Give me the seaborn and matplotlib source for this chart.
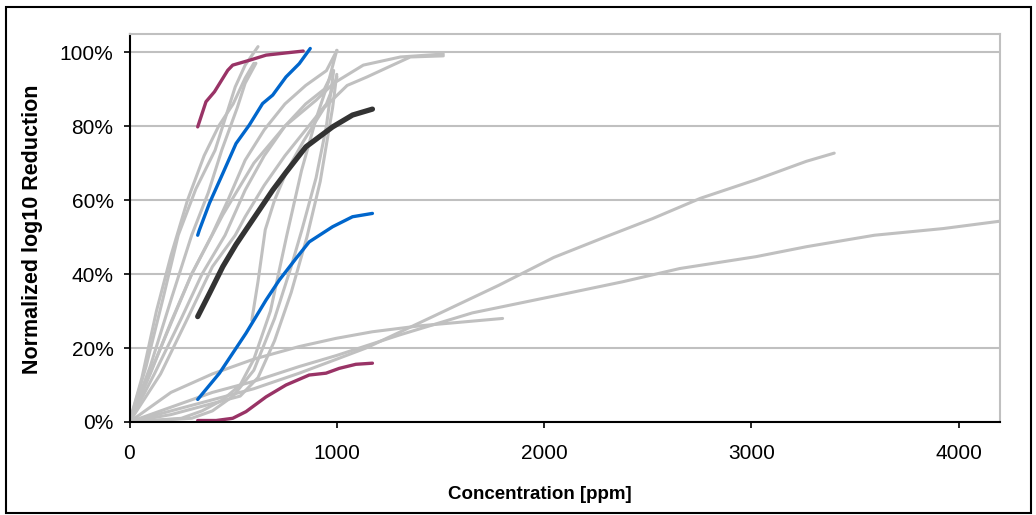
import matplotlib
matplotlib.use("Agg")
import matplotlib.pyplot as plt
from matplotlib.patches import Rectangle
from matplotlib.ticker import PercentFormatter
import seaborn as sns

# grey background curves (concentration ppm, normalized reduction)
g_a_x = [0, 80, 160, 235, 320, 413, 510, 558, 620]
g_a_y = [0, 0.15, 0.33, 0.505, 0.63, 0.735, 0.906, 0.965, 1.015]
g_b_x = [0, 100, 200, 300, 380, 445, 520, 558, 610]
g_b_y = [0, 0.15, 0.33, 0.505, 0.62, 0.735, 0.85, 0.916, 0.97]
g_k_x = [0, 60, 130, 200, 280, 360, 430, 500, 558, 600]
g_k_y = [0, 0.12, 0.30, 0.45, 0.60, 0.72, 0.80, 0.86, 0.93, 0.97]
g_c_x = [0, 100, 200, 300, 397, 475, 558, 650, 750, 850, 950, 1001]
g_c_y = [0, 0.13, 0.27, 0.40, 0.505, 0.60, 0.708, 0.79, 0.86, 0.91, 0.95, 1.005]
g_d_x = [0, 120, 250, 350, 461, 558, 650, 750, 850, 940, 984]
g_d_y = [0, 0.13, 0.28, 0.40, 0.505, 0.627, 0.72, 0.80, 0.86, 0.90, 0.95]
g_e_x = [0, 150, 280, 400, 510, 558, 650, 750, 850, 950, 1001]
g_e_y = [0, 0.13, 0.28, 0.42, 0.505, 0.555, 0.64, 0.72, 0.79, 0.86, 0.933]
g_f_x = [0, 250, 350, 450, 534, 600, 680, 759, 830, 900, 960, 1000]
g_f_y = [0, 0.01, 0.03, 0.06, 0.10, 0.17, 0.30, 0.505, 0.68, 0.82, 0.92, 1.005]
g_g_x = [0, 300, 400, 500, 600, 700, 780, 832, 900, 950, 985]
g_g_y = [0, 0.01, 0.03, 0.07, 0.14, 0.28, 0.42, 0.52, 0.66, 0.80, 0.95]
g_h_x = [590, 620, 655, 700, 760, 840, 940, 1050, 1146, 1250, 1355, 1514]
g_h_y = [0.275, 0.38, 0.52, 0.60, 0.68, 0.76, 0.85, 0.91, 0.933, 0.96, 0.987, 0.99]
g_i_x = [0, 200, 400, 534, 620, 700, 780, 856, 920, 980, 1000]
g_i_y = [0, 0.02, 0.05, 0.07, 0.12, 0.22, 0.35, 0.50, 0.65, 0.85, 0.94]
g_j_x = [0, 150, 300, 450, 600, 750, 900, 985, 1128, 1307, 1514]
g_j_y = [0, 0.20, 0.40, 0.56, 0.70, 0.80, 0.87, 0.916, 0.965, 0.987, 0.995]
g_1_x = [0, 200, 400, 600, 819, 1000, 1141, 1463, 1783, 2047, 2294, 2524, 2755, 3022, 3266, 3400]
g_1_y = [0, 0.03, 0.06, 0.09, 0.132, 0.17, 0.20, 0.285, 0.37, 0.445, 0.50, 0.55, 0.605, 0.655, 0.705, 0.727]
g_2_x = [0, 200, 400, 600, 819, 1000, 1301, 1654, 2113, 2378, 2655, 3022, 3266, 3594, 3925, 4200]
g_2_y = [0, 0.04, 0.08, 0.11, 0.15, 0.18, 0.235, 0.295, 0.348, 0.379, 0.415, 0.447, 0.474, 0.505, 0.523, 0.543]
g_3_x = [0, 200, 400, 600, 819, 995, 1172, 1400, 1600, 1800]
g_3_y = [0, 0.08, 0.13, 0.17, 0.204, 0.226, 0.244, 0.26, 0.27, 0.28]

# highlighted curves
maroon_hi_x = [329, 369, 410, 474, 498, 578, 659, 755, 838]
maroon_hi_y = [0.798, 0.866, 0.893, 0.951, 0.965, 0.978, 0.992, 0.998, 1.003]
blue_hi_x = [329, 337, 386, 450, 514, 578, 642, 691, 755, 819, 872]
blue_hi_y = [0.505, 0.519, 0.592, 0.672, 0.753, 0.803, 0.861, 0.884, 0.933, 0.969, 1.01]
black_x = [329, 386, 450, 514, 562, 626, 691, 755, 851, 980, 1076, 1172]
black_y = [0.285, 0.348, 0.42, 0.48, 0.52, 0.573, 0.627, 0.675, 0.744, 0.798, 0.83, 0.846]
blue_lo_x = [329, 434, 498, 562, 659, 723, 803, 867, 980, 1076, 1172]
blue_lo_y = [0.061, 0.132, 0.186, 0.24, 0.33, 0.384, 0.442, 0.487, 0.528, 0.555, 0.564]
maroon_lo_x = [329, 418, 498, 562, 659, 755, 867, 948, 1012, 1092, 1172]
maroon_lo_y = [0.004, 0.004, 0.01, 0.028, 0.068, 0.10, 0.127, 0.132, 0.145, 0.156, 0.159]

sns.set_style("white")
plt.rcParams["font.family"] = ["Liberation Sans", "DejaVu Sans"]
plt.rcParams["text.color"] = "black"
plt.rcParams["axes.labelcolor"] = "black"
plt.rcParams["xtick.color"] = "black"
plt.rcParams["ytick.color"] = "black"

fig = plt.figure(figsize=(10.36, 5.15), dpi=100)
ax = fig.add_axes([0.125, 0.1806, 0.8403, 0.754])

grey = [(g_a_x, g_a_y), (g_b_x, g_b_y), (g_k_x, g_k_y), (g_c_x, g_c_y),
        (g_d_x, g_d_y), (g_e_x, g_e_y), (g_f_x, g_f_y), (g_g_x, g_g_y),
        (g_h_x, g_h_y), (g_i_x, g_i_y), (g_j_x, g_j_y), (g_1_x, g_1_y),
        (g_2_x, g_2_y), (g_3_x, g_3_y)]
for gx, gy in grey:
    sns.lineplot(x=gx, y=gy, ax=ax, color="#C0C0C0", lw=2.2,
                 sort=False, estimator=None)

highlight = [(maroon_hi_x, maroon_hi_y, "#993366", 2.4),
             (blue_hi_x, blue_hi_y, "#0066CC", 2.4),
             (blue_lo_x, blue_lo_y, "#0066CC", 2.4),
             (maroon_lo_x, maroon_lo_y, "#993366", 2.4),
             (black_x, black_y, "#333333", 3.8)]
for hx, hy, c, w in highlight:
    sns.lineplot(x=hx, y=hy, ax=ax, color=c, lw=w, sort=False,
                 estimator=None, solid_capstyle="round")

ax.set_xlim(0, 4200)
ax.set_ylim(0, 1.05)
ax.set_xticks([0, 1000, 2000, 3000, 4000])
ax.set_yticks([0, 0.2, 0.4, 0.6, 0.8, 1.0])
ax.yaxis.set_major_formatter(PercentFormatter(1.0, decimals=0))
ax.yaxis.grid(True, color="#C0C0C0", lw=1.5)
ax.set_axisbelow(True)

for side in ["left", "bottom"]:
    ax.spines[side].set_color("black")
    ax.spines[side].set_linewidth(1.5)
for side in ["top", "right"]:
    ax.spines[side].set_color("#C0C0C0")
    ax.spines[side].set_linewidth(1.5)

ax.tick_params(axis="both", which="major", direction="out", length=4.5,
               width=1.2, color="black", labelcolor="black", labelsize=15,
               left=True, bottom=True)
ax.tick_params(axis="x", pad=11)
ax.tick_params(axis="y", pad=7)

ax.set_xlabel("Concentration [ppm]", fontsize=13.5, fontweight="bold",
              color="black")
ax.set_ylabel("Normalized log10 Reduction", fontsize=15.5, fontweight="bold",
              color="black")
ax.xaxis.set_label_coords(0.4716, -0.188)
ax.xaxis.label.set_verticalalignment("center")
ax.yaxis.set_label_coords(-0.111, 0.497)
ax.yaxis.label.set_verticalalignment("center")

fig.patches.append(Rectangle((5.5 / 1036, 2 / 515), 1025 / 1036, 506 / 515,
                             transform=fig.transFigure, fill=False,
                             edgecolor="black", lw=1.5))

fig.savefig("out.png", dpi=100)
